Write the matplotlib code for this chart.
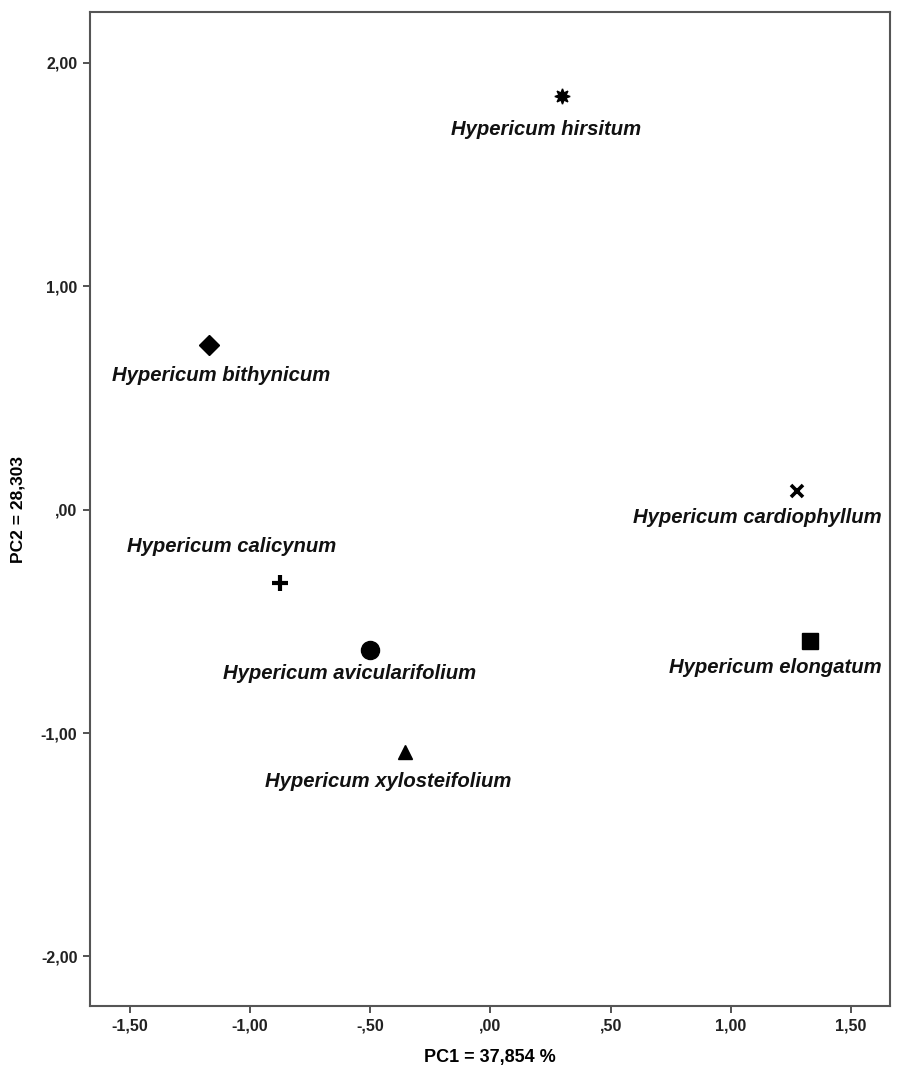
import matplotlib.pyplot as plt
from matplotlib.ticker import FuncFormatter

plt.rcParams['font.family'] = ['Liberation Sans', 'DejaVu Sans']

species = ['Hypericum hirsitum', 'Hypericum bithynicum', 'Hypericum cardiophyllum',
           'Hypericum calicynum', 'Hypericum avicularifolium', 'Hypericum elongatum',
           'Hypericum xylosteifolium']
pc1 = [0.296, -1.172, 1.274, -0.877, -0.502, 1.328, -0.357]
pc2 = [1.852, 0.738, 0.085, -0.327, -0.626, -0.586, -1.083]

xticks = [-1.5, -1.0, -0.5, 0.0, 0.5, 1.0, 1.5]
yticks = [-2.0, -1.0, 0.0, 1.0, 2.0]

# marker style and label offset (pixels) per species
styles = {
    'Hypericum hirsitum': dict(marker=(8, 1, 0), ms=11, off=(-16, -34)),
    'Hypericum bithynicum': dict(marker='D', ms=10, off=(12, -31)),
    'Hypericum cardiophyllum': dict(marker='x', ms=9, mew=2.6, off=(-39, -27)),
    'Hypericum calicynum': dict(marker='+', ms=12, mew=3, off=(-48, 36)),
    'Hypericum avicularifolium': dict(marker='o', ms=13, off=(-20, -24)),
    'Hypericum elongatum': dict(marker='s', ms=12, off=(-34, -27)),
    'Hypericum xylosteifolium': dict(marker='^', ms=10, off=(-16, -30)),
}

def fmt(v, pos):
    s = f'{v:.2f}'.replace('.', ',')
    if s.startswith('0'):
        s = s[1:]
    elif s.startswith('-0'):
        s = '-' + s[2:]
    return s

fig = plt.figure(figsize=(8.97, 10.68), dpi=100)
ax = fig.add_axes([0.1003, 0.058, 0.8919, 0.9308])

for name, x, y in zip(species, pc1, pc2):
    st = styles[name]
    ax.plot(x, y, linestyle='none', marker=st['marker'], markersize=st['ms'],
            color='black', markeredgewidth=st.get('mew', 1))
    ax.annotate(name, (x, y), xytext=st['off'], textcoords='offset pixels',
                ha='center', va='center', fontsize=14.6, fontweight='bold',
                fontstyle='italic', color='#111111')

ax.set_xlim(-1.666, 1.662)
ax.set_ylim(-2.222, 2.228)
ax.set_xticks(xticks)
ax.set_yticks(yticks)
ax.xaxis.set_major_formatter(FuncFormatter(fmt))
ax.yaxis.set_major_formatter(FuncFormatter(fmt))
ax.tick_params(direction='out', length=5, width=1.3, color='#444444',
               labelsize=11.5, pad=4)
for lab in ax.get_xticklabels() + ax.get_yticklabels():
    lab.set_fontweight('bold')
    lab.set_color('#222222')
for sp in ax.spines.values():
    sp.set_color('#555555')
    sp.set_linewidth(1.5)

ax.set_xlabel('PC1 = 37,854 %', fontsize=13, fontweight='bold', labelpad=11)
ax.set_ylabel('PC2 = 28,303', fontsize=12.5, fontweight='bold', labelpad=11)

fig.savefig('out.png', dpi=100)
